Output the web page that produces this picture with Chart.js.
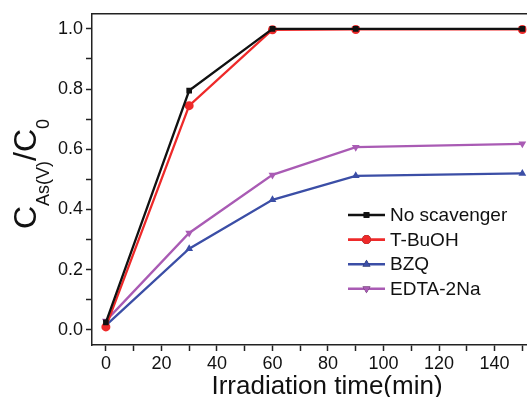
<!DOCTYPE html>
<html>
<head>
<meta charset="utf-8">
<script src="https://cdn.jsdelivr.net/npm/chart.js@4/dist/chart.umd.min.js"></script>
<style>
  html, body { margin: 0; padding: 0; background: #fff; }
  #wrap { width: 531px; height: 397px; }
</style>
</head>
<body>
<div id="wrap"><canvas id="myChart"></canvas></div>
<script>
"use strict";

// data
const times = [0, 30, 60, 90, 150];
const noScavenger = [0.025, 0.795, 1.0, 1.0, 1.0];
const tBuOH = [0.01, 0.745, 0.997, 0.998, 0.998];
const bzq = [0.015, 0.27, 0.432, 0.512, 0.52];
const edta = [0.03, 0.322, 0.515, 0.607, 0.618];

const seriesNames = ["No scavenger", "T-BuOH", "BZQ", "EDTA-2Na"];
const xTicks = [0, 10, 20, 30, 40, 50, 60, 70, 80, 90, 100, 110, 120, 130, 140, 150];
const yTicks = [0, 0.1, 0.2, 0.3, 0.4, 0.5, 0.6, 0.7, 0.8, 0.9, 1.0];

const FONT = "'Liberation Sans', Arial, sans-serif";

function pts(ys) {
  return times.map((t, i) => ({ x: t, y: ys[i] }));
}

function makeSet(label, ys, color, style, rot) {
  return {
    label: label,
    data: pts(ys),
    borderColor: color,
    backgroundColor: color,
    borderWidth: 2.3,
    pointStyle: style,
    pointRotation: rot,
    pointRadius: style === "rect" ? 4 : 4.5,
    pointBorderWidth: 0,
    tension: 0,
  };
}

// y title with subscripts + custom legend + x title
const extras = {
  id: "extras",
  afterDraw(chart) {
    const ctx = chart.ctx;
    ctx.save();
    ctx.fillStyle = "#111";

    // x title
    ctx.font = "26px " + FONT;
    ctx.textAlign = "center";
    ctx.textBaseline = "alphabetic";
    ctx.fillText("Irradiation time(min)", 327, 394);

    // y title, rotated
    ctx.translate(36, 229);
    ctx.rotate(-Math.PI / 2);
    ctx.textAlign = "left";
    let x = 0;
    ctx.font = "32px " + FONT;
    ctx.fillText("C", x, 0);
    x += ctx.measureText("C").width;
    ctx.font = "18px " + FONT;
    ctx.fillText("As(V)", x, 13);
    x += ctx.measureText("As(V)").width;
    ctx.font = "32px " + FONT;
    ctx.fillText("/C", x, 0);
    x += ctx.measureText("/C").width;
    ctx.font = "18px " + FONT;
    ctx.fillText("0", x, 13);
    ctx.restore();

    // legend
    ctx.save();
    chart.data.datasets.forEach((ds, i) => {
      const y = 215 + i * 24.6;
      ctx.strokeStyle = ds.borderColor;
      ctx.lineWidth = 2.6;
      ctx.beginPath();
      ctx.moveTo(348, y);
      ctx.lineTo(385, y);
      ctx.stroke();
      Chart.helpers.drawPoint(ctx, {
        pointStyle: ds.pointStyle,
        rotation: ds.pointRotation,
        radius: ds.pointRadius,
        borderWidth: 0,
      }, 366.5, y);
      ctx.fillStyle = ds.borderColor;
      ctx.fill();
      ctx.fillStyle = "#111";
      ctx.font = "19px " + FONT;
      ctx.textAlign = "left";
      ctx.textBaseline = "middle";
      ctx.fillText(ds.label, 390, y + 1);
    });
    ctx.restore();
  },
};

const data = {
  datasets: [
    makeSet(seriesNames[0], noScavenger, "#111111", "rect", 0),
    makeSet(seriesNames[1], tBuOH, "#ee2a2a", "circle", 0),
    makeSet(seriesNames[2], bzq, "#3b4ea6", "triangle", 0),
    makeSet(seriesNames[3], edta, "#a95bb4", "triangle", 180),
  ],
};

const config = {
  type: "line",
  data: data,
  plugins: [extras],
  options: {
    responsive: true,
    maintainAspectRatio: false,
    animation: false,
    layout: { padding: { left: 0, right: 0, top: 13, bottom: 0 } },
    plugins: {
      legend: { display: false },
      tooltip: { enabled: false },
    },
    scales: {
      x: {
        type: "linear",
        min: -5,
        max: 151.5,
        afterBuildTicks: (s) => { s.ticks = xTicks.map((v) => ({ value: v })); },
        afterFit: (s) => { s.height = 52; },
        ticks: {
          color: "#111",
          font: { family: FONT, size: 18 },
          padding: 2,
          maxRotation: 0,
          autoSkip: false,
          callback: (v) => (v % 20 === 0 ? String(v) : ""),
        },
        grid: {
          drawOnChartArea: false,
          tickLength: 6,
          tickWidth: 1.5,
          tickColor: "#222",
        },
        border: { color: "#222", width: 1.5 },
      },
      xTop: {
        type: "linear",
        position: "top",
        min: -5,
        max: 151.5,
        afterFit: (s) => { s.height = 0; },
        ticks: { display: false },
        grid: { display: false },
        border: { color: "#222", width: 1.5 },
      },
      y: {
        min: -0.05,
        max: 1.05,
        afterBuildTicks: (s) => { s.ticks = yTicks.map((v) => ({ value: v })); },
        afterFit: (s) => { s.width = 92; },
        ticks: {
          color: "#111",
          font: { family: FONT, size: 18 },
          padding: 3,
          autoSkip: false,
          callback: (v) => (Math.round(v * 10) % 2 === 0 ? v.toFixed(1) : ""),
        },
        grid: {
          drawOnChartArea: false,
          tickLength: 6,
          tickWidth: 1.5,
          tickColor: "#222",
        },
        border: { color: "#222", width: 1.5 },
      },
    },
  },
};

const myChart = new Chart(document.getElementById("myChart"), config);
</script>
</body>
</html>
